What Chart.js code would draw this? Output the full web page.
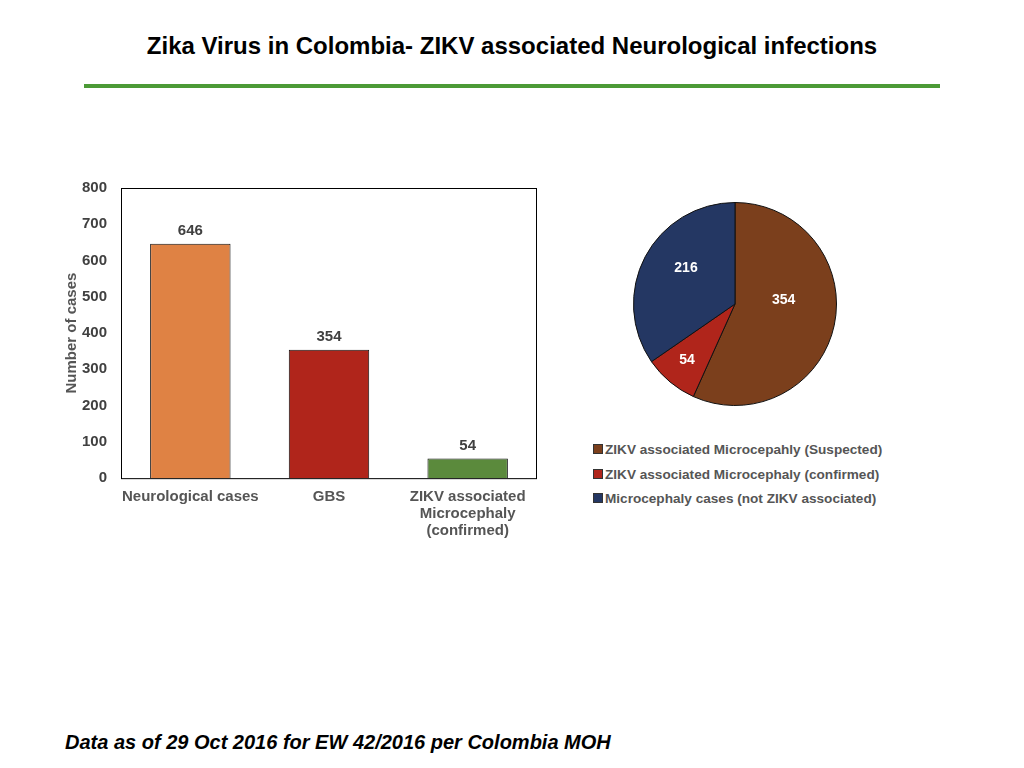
<!DOCTYPE html>
<html>
<head>
<meta charset="utf-8">
<script src="https://cdn.jsdelivr.net/npm/chart.js@4.4.0/dist/chart.umd.min.js"></script>
<style>
  body { margin: 0; background: #fff; font-family: "Liberation Sans", Arial, sans-serif; }
  #page { position: relative; width: 1024px; height: 768px; overflow: hidden; }
  #title { position: absolute; left: 0; width: 1024px; top: 32px; text-align: center;
           font-weight: bold; font-size: 24px; color: #000; }
  #rule { position: absolute; left: 84px; top: 84px; width: 856px; height: 4px; background: #4c9a36; }
  #barBox { position: absolute; left: 50px; top: 170px; width: 500px; height: 380px; }
  #pieBox { position: absolute; left: 633px; top: 202px; width: 204px; height: 204px; }
  #legend { position: absolute; left: 593px; top: 440px; font-size: 13.6px; font-weight: bold; color: #555; }
  #legend div { height: 24.5px; line-height: 20px; white-space: nowrap; }
  #legend span { display: inline-block; width: 8px; height: 8px; margin-right: 2px; border: 1px solid #333; vertical-align: 0px; }
  #footer { position: absolute; left: 65px; top: 731px; font-size: 20px; font-weight: bold; font-style: italic; color: #000; }
</style>
</head>
<body>
<div id="page">
  <div id="title">Zika Virus in Colombia- ZIKV associated Neurological infections</div>
  <div id="rule"></div>
  <div id="barBox"><canvas id="barChart"></canvas></div>
  <div id="pieBox"><canvas id="pieChart"></canvas></div>
  <div id="legend"></div>
  <div id="footer">Data as of 29 Oct 2016 for EW 42/2016 per Colombia MOH</div>
</div>
<script>
// --- du lieu ---
const barLabels = [["Neurological cases"], ["GBS"], ["ZIKV associated", "Microcephaly", "(confirmed)"]];
const barValues = [646, 354, 54];
const barColors = ['#df8244', '#b0251b', '#5b8a3c'];

const pieLabels = ["ZIKV associated Microcepahly (Suspected)", "ZIKV associated Microcephaly (confirmed)", "Microcephaly cases (not ZIKV associated)"];
const pieValues = [354, 54, 216];
const pieColors = ['#7b3f1c', '#b0251b', '#243763'];
// vi tri nhan tren banh, giong Excel "best fit": ti le ban kinh + vi tri trong goc
const pieLabelRadius = [0.48, 0.73, 0.6];
const pieLabelAt = [0.42, 0.52, 0.57];

const yTicks = [0, 100, 200, 300, 400, 500, 600, 700, 800];

const FONT = '"Liberation Sans", Arial, sans-serif';

// ve so len cot / mieng banh
const valueLabels = {
    id: 'valueLabels',
    afterDatasetsDraw(chart, args, opts) {
        const ctx = chart.ctx;
        const meta = chart.getDatasetMeta(0);
        ctx.save();
        ctx.font = 'bold ' + opts.size + 'px ' + FONT;
        ctx.fillStyle = opts.color;
        ctx.textAlign = 'center';
        ctx.textBaseline = 'middle';
        meta.data.forEach((el, i) => {
            const v = chart.data.datasets[0].data[i];
            let x, y;
            if (chart.config.type === 'bar') { x = el.x; y = el.y - 13; }
            else {
                const ang = el.startAngle + (el.endAngle - el.startAngle) * opts.at[i];
                const r = el.outerRadius * opts.radius[i];
                x = el.x + Math.cos(ang) * r;
                y = el.y + Math.sin(ang) * r;
            }
            ctx.fillText(v, x, y);
        });
        ctx.restore();
    }
};

// khung den quanh vung ve
const plotFrame = {
    id: 'plotFrame',
    afterDraw(chart) {
        const a = chart.chartArea, ctx = chart.ctx;
        ctx.save();
        ctx.strokeStyle = '#000';
        ctx.lineWidth = 1;
        ctx.strokeRect(a.left + 0.5, a.top + 0.5, a.right - a.left - 1, a.bottom - a.top);
        ctx.restore();
    }
};

new Chart(document.getElementById('barChart'), {
    type: 'bar',
    data: {
        labels: barLabels,
        datasets: [{
            data: barValues,
            backgroundColor: barColors,
            borderColor: '#111',
            borderWidth: 1,
            categoryPercentage: 1,
            barPercentage: 0.58
        }]
    },
    options: {
        responsive: true,
        maintainAspectRatio: false,
        animation: false,
        layout: { padding: { top: 18, right: 13, bottom: 1, left: 0 } },
        plugins: {
            legend: { display: false },
            tooltip: { enabled: false },
            valueLabels: { size: 15, color: '#404040' }
        },
        scales: {
            x: {
                grid: { display: false, drawTicks: false },
                border: { display: false },
                ticks: { color: '#555', font: { family: FONT, size: 15, weight: 'bold', lineHeight: 1.13 }, padding: 10, maxRotation: 0, autoSkip: false }
            },
            y: {
                min: 0, max: 800,
                afterBuildTicks: s => { s.ticks = yTicks.map(v => ({ value: v })); },
                afterFit: s => { s.width = 71; s.paddingTop = 0; s.paddingBottom = 0; },
                grid: { display: false, drawTicks: false },
                border: { display: false },
                ticks: { color: '#404040', font: { family: FONT, size: 15, weight: 'bold' }, padding: 14 },
                title: { display: true, text: 'Number of cases', color: '#555', font: { family: FONT, size: 15, weight: 'bold' }, padding: { top: 13, bottom: 0 } }
            }
        }
    },
    plugins: [valueLabels, plotFrame]
});

new Chart(document.getElementById('pieChart'), {
    type: 'pie',
    data: {
        labels: pieLabels,
        datasets: [{
            data: pieValues,
            backgroundColor: pieColors,
            borderColor: '#111',
            borderWidth: 1
        }]
    },
    options: {
        responsive: true,
        maintainAspectRatio: false,
        animation: false,
        plugins: {
            legend: { display: false },
            tooltip: { enabled: false },
            valueLabels: { size: 14, color: '#fff', radius: pieLabelRadius, at: pieLabelAt }
        }
    },
    plugins: [valueLabels]
});

// chu thich cho bieu do tron
const legendEl = document.getElementById('legend');
pieLabels.forEach((txt, i) => {
    const row = document.createElement('div');
    row.innerHTML = `<span style="background:${pieColors[i]}"></span>${txt}`;
    legendEl.appendChild(row);
});
</script>
</body>
</html>
